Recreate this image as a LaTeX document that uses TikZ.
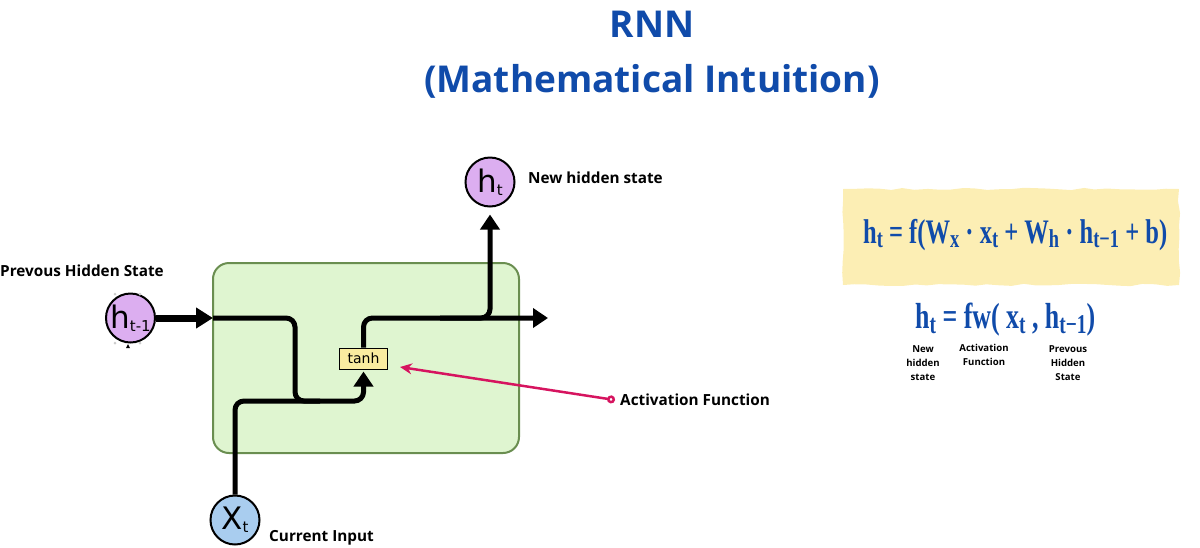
\documentclass[tikz,border=0pt]{standalone}
\usepackage{fontspec}
\setmainfont{Open Sans}
\newfontfamily\circfont{DejaVu Sans}
\newfontfamily\formfont{Liberation Serif}
\usetikzlibrary{arrows.meta,decorations.pathmorphing}
\definecolor{titleblue}{RGB}{16,75,170}
\definecolor{cellfill}{RGB}{223,245,208}
\definecolor{celldraw}{RGB}{106,142,80}
\definecolor{purplec}{RGB}{220,174,240}
\definecolor{bluec}{RGB}{169,205,239}
\definecolor{tanhfill}{RGB}{250,236,160}
\definecolor{pinkc}{RGB}{214,20,95}
\definecolor{yellowbg}{RGB}{252,238,180}
\newcommand\lsub[1]{\raisebox{-0.14em}{\scalebox{0.75}{#1}}}
\newcommand\csub[1]{\raisebox{-0.1em}{\fontsize{15}{15}\selectfont #1}}
\tikzset{
  titlestyle/.style={text=titleblue, font=\bfseries\fontsize{37}{40}\selectfont, inner sep=0pt, anchor=base},
  lbl/.style={font=\bfseries\fontsize{15.3}{17}\selectfont, inner sep=0pt, anchor=west},
  smalllbl/.style={font=\bfseries\fontsize{9.6}{14}\selectfont, align=center, inner sep=0pt},
  cellbox/.style={draw=celldraw, fill=cellfill, line width=2pt, rounded corners=16pt, inner sep=0pt},
  state/.style={circle, draw=black, line width=2pt, minimum size=49pt, inner sep=0pt, font=\circfont\fontsize{31}{31}\selectfont},
  flow/.style={line width=5pt, rounded corners=9pt},
  tipa/.style={-{Triangle[length=15pt,width=19pt]}},
  bigarrow/.style={line width=7pt, -{Triangle[length=17pt,width=20pt]}},
  tanhbox/.style={draw=black, line width=1pt, fill=tanhfill, minimum width=48pt, minimum height=21pt, inner sep=0pt, font=\circfont\fontsize{14}{14}\selectfont},
  pinkarrow/.style={draw=pinkc, line width=2.5pt, {Circle[open,length=8pt,width=8pt]}-{Stealth[length=12pt,width=11pt]}},
  formula/.style={text=titleblue, inner sep=0pt, anchor=base west},
  yellowbox/.style={fill=yellowbg, decorate, decoration={random steps, segment length=12pt, amplitude=1.2pt}, minimum width=336pt, minimum height=96pt, inner sep=0pt}
}
\begin{document}
\begin{tikzpicture}[x=1pt,y=-1pt]
\useasboundingbox (0,0) rectangle (1200,547);
% title
\node[titlestyle] (t1) at (652,37) {RNN};
\node[titlestyle] (t2) at (652,92) {(Mathematical Intuition)};
% cell
\node[cellbox, minimum width=306pt, minimum height=190pt] (cell) at (366,358) {};
% states
\node[state, fill=purplec] (hp) at (130.5,318) {h\csub{t-1}};
\node[state, fill=purplec] (ht) at (490,182) {h\csub{t}};
\node[state, fill=bluec] (xt) at (235,520) {X\csub{t}};
% selection marks
\foreach \p in {(115,294),(140,294),(115,343),(140,343)} \fill[gray!40] \p circle (1.5pt);
\fill[black] (128,344) -- (126,348) -- (130,348) -- cycle;
% labels
\node[lbl] (lp) at (0,271) {Prevous Hidden State};
\node[lbl] (lh) at (528,178) {New hidden state};
\node[lbl] (lx) at (269,538) {Current Input};
% tanh
\node[tanhbox] (tanh) at (363.5,358.5) {tanh};
% flows
\coordinate (cin) at (213,318);
\coordinate (out) at (548,318);
\coordinate (br) at (440,318);
\draw[bigarrow] (hp.east) -- (cin);
\draw[flow] (xt.north) -- (235,401) -- (320,401);
\draw[flow, tipa, shorten >=2pt] (cin) -- (295,318) -- (295,401) -- (363.5,401) -- (tanh.south);
\draw[flow, tipa] (tanh.north) |- (out);
\draw[flow, tipa, shorten >=7pt] (br) -| (ht.south);
% activation pointer
\coordinate (actp) at (615,400);
\coordinate (actend) at (400,367);
\draw[pinkarrow] (actp) -- (actend);
\node[lbl] (la) at (620,400) {Activation Function};
% formulas
\node[yellowbox] (fbox) at (1011,237) {};
\node[formula, font=\formfont\bfseries\fontsize{30}{30}\selectfont] (f1) at (863,243)
  {\scalebox{1}[1.4]{\resizebox{304pt}{!}{h\lsub{t} = f(W\lsub{x} · x\lsub{t} + W\lsub{h} · h\lsub{t−1} + b)}}};
\node[formula, font=\formfont\bfseries\fontsize{26}{26}\selectfont] (f2) at (915,328)
  {\scalebox{1}[1.4]{\resizebox{180pt}{!}{h\lsub{t} = fw( x\lsub{t} , h\lsub{t−1})}}};
\node[smalllbl] (n1) at (923,363) {New\\hidden\\state};
\node[smalllbl] (n2) at (984,355) {Activation\\Function};
\node[smalllbl] (n3) at (1068,363) {Prevous\\Hidden\\State};
\end{tikzpicture}
\end{document}
